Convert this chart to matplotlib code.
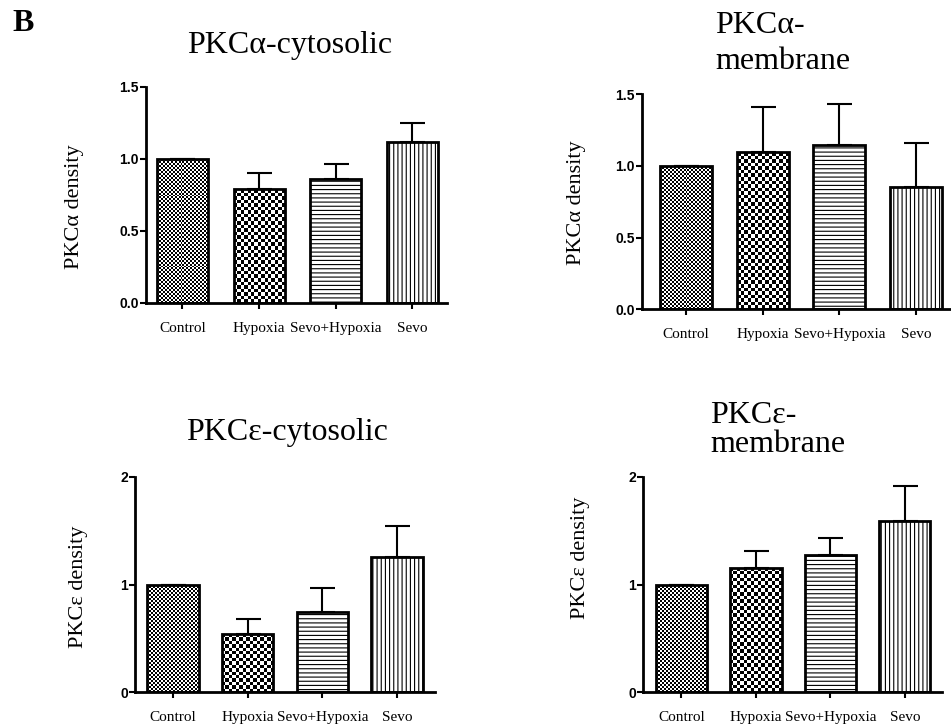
import numpy as np
import matplotlib.pyplot as plt

groups = ["Control", "Hypoxia", "Sevo+Hypoxia", "Sevo"]

alpha_cyto_mean = [1.0, 0.79, 0.86, 1.116]
alpha_cyto_err = [0.0, 0.11, 0.107, 0.132]
alpha_memb_mean = [1.0, 1.095, 1.146, 0.851]
alpha_memb_err = [0.0, 0.318, 0.288, 0.311]
eps_cyto_mean = [1.0, 0.538, 0.748, 1.255]
eps_cyto_err = [0.0, 0.142, 0.217, 0.288]
eps_memb_mean = [1.0, 1.153, 1.274, 1.586]
eps_memb_err = [0.0, 0.158, 0.157, 0.331]

SERIF = "Liberation Serif"
SANS = "Liberation Sans"
plt.rcParams["hatch.linewidth"] = 0.8

fig = plt.figure(figsize=(9.51, 7.27), dpi=100)
W, H = 951.0, 727.0


def checker_fill(ax, patch, cell):
    # checkerboard texture clipped to a bar
    x0, y0 = patch.get_x(), patch.get_y()
    x1, y1 = x0 + patch.get_width(), y0 + patch.get_height()
    p0 = ax.transData.transform((x0, y0))
    p1 = ax.transData.transform((x1, y1))
    nx = max(int(abs(p1[0] - p0[0]) / cell) + 1, 1)
    ny = max(int(abs(p1[1] - p0[1]) / cell) + 1, 1)
    board = (np.add.outer(np.arange(ny), np.arange(nx)) % 2).astype(float)
    im = ax.imshow(board, cmap="gray", vmin=0, vmax=1, extent=(x0, x1, y0, y1),
                   interpolation="nearest", aspect="auto", zorder=2.2)
    im.set_clip_path(patch)


def panel(px, means, errs, ymax, yticks, yticklabels, xlim, width, ylabel, ylab_xy):
    left, top, right, bottom = px
    ax = fig.add_axes([left / W, 1 - bottom / H, (right - left) / W, (bottom - top) / H])
    x = np.arange(len(groups))
    ax.set_xlim(*xlim)
    ax.set_ylim(0, ymax)

    bars = ax.bar(x, means, width=width, color="white", edgecolor="none", zorder=2)
    bars[2].set_hatch("----")
    bars[3].set_hatch("||||")
    for b in bars[2:]:
        b.set_edgecolor("black")
        b.set_linewidth(0)
    checker_fill(ax, bars[0], 2.0)
    checker_fill(ax, bars[1], 3.6)

    ax.errorbar(x, means, yerr=[np.zeros(len(errs)), errs], fmt="none",
                ecolor="black", elinewidth=1.5, capsize=9, capthick=1.5, zorder=2.5)
    ax.bar(x, means, width=width, facecolor="none", edgecolor="black",
           linewidth=2.0, zorder=3)

    for s in ["top", "right"]:
        ax.spines[s].set_visible(False)
    for s in ["left", "bottom"]:
        ax.spines[s].set_linewidth(2.0)
    ax.set_yticks(yticks)
    ax.set_yticklabels(yticklabels, fontfamily=SANS, fontweight="bold", fontsize=10)
    ax.set_xticks(x)
    ax.set_xticklabels(groups, fontfamily=SERIF, fontsize=11)
    ax.tick_params(axis="y", length=4.5, width=1.5, pad=0.5)
    ax.tick_params(axis="x", length=4.5, width=1.5, pad=9)
    fig.text(ylab_xy[0] / W, 1 - ylab_xy[1] / H, ylabel, rotation=90,
             ha="center", va="center", fontfamily=SERIF, fontsize=16)
    return ax


panel((146, 87, 447, 303), alpha_cyto_mean, alpha_cyto_err, 1.5,
      [0, 0.5, 1.0, 1.5], ["0.0", "0.5", "1.0", "1.5"], (-0.476, 3.45), 0.665,
      "PKCα density", (75, 207))
panel((642, 94.3, 951, 309.3), alpha_memb_mean, alpha_memb_err, 1.5,
      [0, 0.5, 1.0, 1.5], ["0.0", "0.5", "1.0", "1.5"], (-0.574, 3.456), 0.68,
      "PKCα density", (577, 203))
panel((135, 476.7, 435, 692.3), eps_cyto_mean, eps_cyto_err, 2,
      [0, 1, 2], ["0", "1", "2"], (-0.51, 3.51), 0.69,
      "PKCε density", (78, 587))
panel((643, 476.7, 942, 692.3), eps_memb_mean, eps_memb_err, 2,
      [0, 1, 2], ["0", "1", "2"], (-0.517, 3.5), 0.69,
      "PKCε density", (580, 558))

# titles
tkw = dict(fontfamily=SERIF, fontsize=23, va="baseline")
fig.text(290 / W, 1 - 53 / H, "PKCα-cytosolic", ha="center", **tkw)
fig.text(715 / W, 1 - 33 / H, "PKCα-", ha="left", **tkw)
fig.text(715 / W, 1 - 69 / H, "membrane", ha="left", **tkw)
fig.text(287 / W, 1 - 440 / H, "PKCε-cytosolic", ha="center", **tkw)
fig.text(710 / W, 1 - 423 / H, "PKCε-", ha="left", **tkw)
fig.text(710 / W, 1 - 452 / H, "membrane", ha="left", **tkw)

fig.text(12 / W, 1 - 31 / H, "B", fontfamily=SERIF, fontweight="bold",
         fontsize=23, ha="left", va="baseline")

fig.savefig("out.png", dpi=100)
